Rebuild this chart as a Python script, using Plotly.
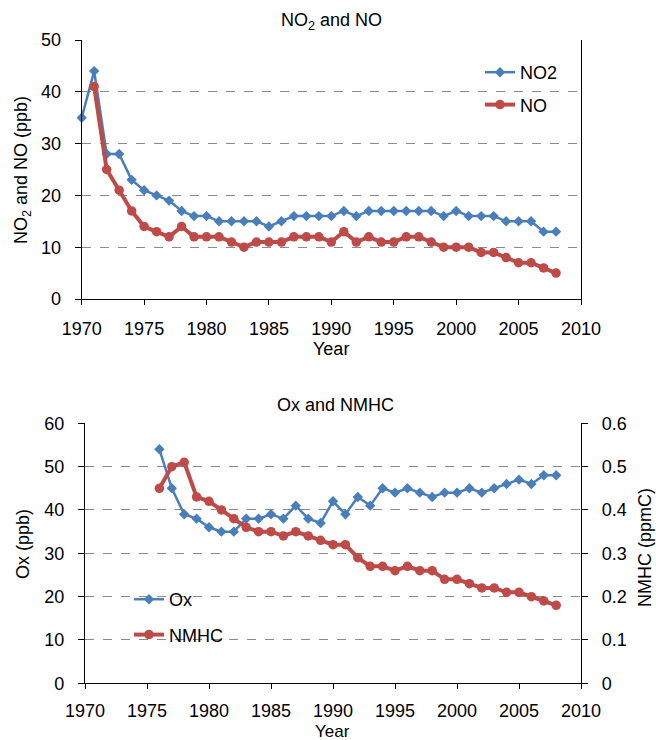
import plotly.graph_objects as go

W, H = 656, 740

# ---------------- data ----------------
years_no2 = [1970, 1971, 1972, 1973, 1974, 1975, 1976, 1977, 1978, 1979,
             1980, 1981, 1982, 1983, 1984, 1985, 1986, 1987, 1988, 1989,
             1990, 1991, 1992, 1993, 1994, 1995, 1996, 1997, 1998, 1999,
             2000, 2001, 2002, 2003, 2004, 2005, 2006, 2007, 2008]
no2 = [35, 44, 28, 28, 23, 21, 20, 19, 17, 16,
       16, 15, 15, 15, 15, 14, 15, 16, 16, 16,
       16, 17, 16, 17, 17, 17, 17, 17, 17, 16,
       17, 16, 16, 16, 15, 15, 15, 13, 13]

years_no = [1971, 1972, 1973, 1974, 1975, 1976, 1977, 1978, 1979,
            1980, 1981, 1982, 1983, 1984, 1985, 1986, 1987, 1988, 1989,
            1990, 1991, 1992, 1993, 1994, 1995, 1996, 1997, 1998, 1999,
            2000, 2001, 2002, 2003, 2004, 2005, 2006, 2007, 2008]
no = [41, 25, 21, 17, 14, 13, 12, 14, 12,
      12, 12, 11, 10, 11, 11, 11, 12, 12, 12,
      11, 13, 11, 12, 11, 11, 12, 12, 11, 10,
      10, 10, 9, 9, 8, 7, 7, 6, 5]

years_ox = [1976, 1977, 1978, 1979, 1980, 1981, 1982, 1983, 1984, 1985,
            1986, 1987, 1988, 1989, 1990, 1991, 1992, 1993, 1994, 1995,
            1996, 1997, 1998, 1999, 2000, 2001, 2002, 2003, 2004, 2005,
            2006, 2007, 2008]
ox = [54, 45, 39, 38, 36, 35, 35, 38, 38, 39,
      38, 41, 38, 37, 42, 39, 43, 41, 45, 44,
      45, 44, 43, 44, 44, 45, 44, 45, 46, 47,
      46, 48, 48]
nmhc = [0.45, 0.50, 0.51, 0.43, 0.42, 0.40, 0.38, 0.36, 0.35, 0.35,
        0.34, 0.35, 0.34, 0.33, 0.32, 0.32, 0.29, 0.27, 0.27, 0.26,
        0.27, 0.26, 0.26, 0.24, 0.24, 0.23, 0.22, 0.22, 0.21, 0.21,
        0.20, 0.19, 0.18]

x_ticks = [1970, 1975, 1980, 1985, 1990, 1995, 2000, 2005, 2010]

BLUE = "#4A7EBB"
RED = "#BE4B48"
FONT = "Liberation Sans, Arial, sans-serif"
GRID = "#8a8a8a"


def fx(p):
    return p / W


def fy(p):
    return 1 - p / H


fig = go.Figure()

fig.add_trace(go.Scatter(x=years_no2, y=no2, name="NO2", mode="lines+markers",
                         line=dict(color=BLUE, width=2.5),
                         marker=dict(symbol="diamond", size=8, color=BLUE),
                         xaxis="x", yaxis="y", cliponaxis=False,
                         legend="legend", legendgroup="a"))
fig.add_trace(go.Scatter(x=years_no, y=no, name="NO", mode="lines+markers",
                         line=dict(color=RED, width=4),
                         marker=dict(symbol="circle", size=9.5, color=RED),
                         xaxis="x", yaxis="y", cliponaxis=False,
                         legend="legend", legendgroup="b"))
fig.add_trace(go.Scatter(x=years_ox, y=ox, name="Ox", mode="lines+markers",
                         line=dict(color=BLUE, width=2.5),
                         marker=dict(symbol="diamond", size=8, color=BLUE),
                         xaxis="x2", yaxis="y2", cliponaxis=False,
                         legend="legend2", legendgroup="c"))
fig.add_trace(go.Scatter(x=years_ox, y=nmhc, name="NMHC", mode="lines+markers",
                         line=dict(color=RED, width=4),
                         marker=dict(symbol="circle", size=9.5, color=RED),
                         xaxis="x2", yaxis="y3", cliponaxis=False,
                         legend="legend2", legendgroup="d"))

xcommon = dict(range=[1970, 2010], tickvals=x_ticks, showline=True,
               linecolor="black", linewidth=1.2, ticks="outside", ticklen=5,
               tickcolor="black", showgrid=False, zeroline=False,
               automargin=False,
               tickfont=dict(size=18, color="black"))
ycommon = dict(showline=True, linecolor="black", linewidth=1.2,
               ticks="outside", ticklen=6, tickcolor="black",
               showgrid=True, gridcolor=GRID, griddash="dash", gridwidth=1,
               zeroline=False, tickfont=dict(size=18, color="black"),
               automargin=False, ticklabelstandoff=10)

fig.update_layout(
    width=W, height=H,
    margin=dict(l=0, r=0, t=0, b=0, pad=0, autoexpand=False),
    paper_bgcolor="white", plot_bgcolor="white",
    font=dict(family=FONT, size=18, color="black"),
    xaxis=dict(domain=[fx(81.7), fx(581)], anchor="y", ticklabelstandoff=8,
               **xcommon),
    yaxis=dict(domain=[fy(299), fy(40)], anchor="x", range=[0, 50], dtick=10,
               mirror=True, **ycommon),
    xaxis2=dict(domain=[fx(85), fx(581)], anchor="y2", ticklabelstandoff=6,
                **xcommon),
    yaxis2=dict(domain=[fy(683.3), fy(423.3)], anchor="x2", range=[0, 60],
                dtick=10, **ycommon),
    yaxis3=dict(overlaying="y2", anchor="x2", side="right", range=[0, 0.6],
                dtick=0.1, showline=True, linecolor="black", linewidth=1.2,
                ticks="outside", ticklen=6, tickcolor="black", showgrid=False,
                zeroline=False, tickfont=dict(size=18, color="black"),
                automargin=False, ticklabelstandoff=10),
    legend=dict(x=fx(480), y=fy(54), xanchor="left", yanchor="top",
                bgcolor="rgba(0,0,0,0)", font=dict(size=18),
                itemwidth=30, tracegroupgap=6, traceorder="grouped"),
    legend2=dict(x=fx(129), y=fy(581), xanchor="left", yanchor="top",
                 bgcolor="rgba(0,0,0,0)", font=dict(size=18),
                 itemwidth=30, tracegroupgap=9, traceorder="grouped"),
    showlegend=True,
)

annots = [
    dict(text="NO<sub>2</sub> and NO", x=fx(331.7), y=fy(21), size=18),
    dict(text="Ox and NMHC", x=fx(335.8), y=fy(405), size=18),
    dict(text="Year", x=fx(331), y=fy(349), size=18),
    dict(text="Year", x=fx(333), y=fy(731), size=17),
    dict(text="NO<sub>2</sub> and NO (ppb)", x=fx(22), y=fy(170), textangle=-90, size=18),
    dict(text="Ox (ppb)", x=fx(23), y=fy(544), textangle=-90, size=18),
    dict(text="NMHC (ppmC)", x=fx(645), y=fy(548), textangle=-90, size=18),
]
for a in annots:
    size = a.pop("size")
    fig.add_annotation(xref="paper", yref="paper", showarrow=False,
                       xanchor="center", yanchor="middle",
                       font=dict(size=size, color="black", family=FONT), **a)

fig.write_html("out.html")
